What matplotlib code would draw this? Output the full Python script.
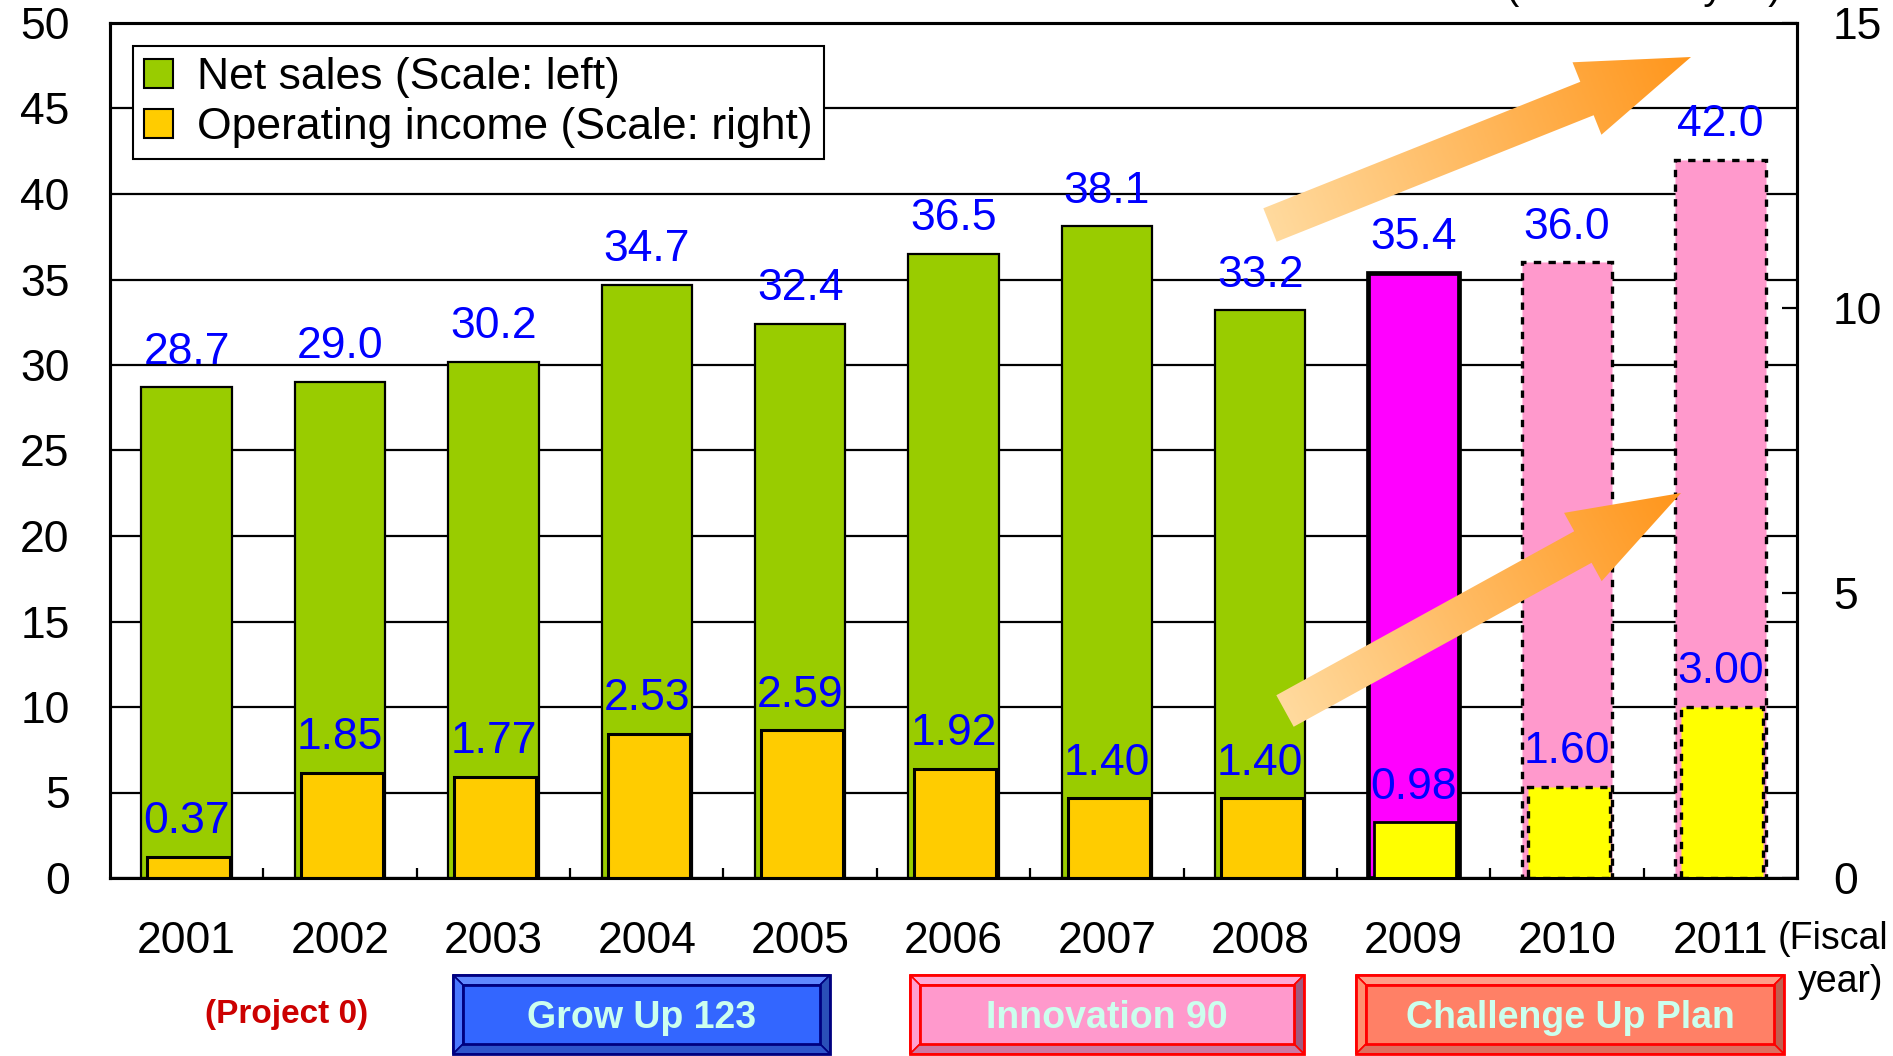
import numpy as np
import matplotlib.pyplot as plt
from matplotlib.patches import Patch, Polygon, Rectangle
from matplotlib.colors import LinearSegmentedColormap

years = ['2001', '2002', '2003', '2004', '2005', '2006', '2007', '2008', '2009', '2010', '2011']
net_sales = [28.7, 29.0, 30.2, 34.7, 32.4, 36.5, 38.1, 33.2, 35.4, 36.0, 42.0]
op_income = [0.37, 1.85, 1.77, 2.53, 2.59, 1.92, 1.40, 1.40, 0.98, 1.60, 3.00]
plans = ['Grow Up 123', 'Innovation 90', 'Challenge Up Plan']

plt.rcParams['font.family'] = ['Liberation Sans', 'DejaVu Sans']
narrow = ['Liberation Sans Narrow', 'Liberation Sans', 'DejaVu Sans']
FS = 32

W, H = 1893, 1056
fig = plt.figure(figsize=(W / 100, H / 100), dpi=100)
ax = fig.add_axes([110 / W, 1 - 878 / H, (1797 - 110) / W, (878 - 23) / H])
ax2 = ax.twinx()

x = np.arange(len(years))
sales_col = ['#99CC00'] * 8 + ['#FF00FF', '#FF99CC', '#FF99CC']
inc_col = ['#FFCC00'] * 8 + ['#FFFF00'] * 3
dash = (0, (2.2, 2.2))

for i in range(len(years)):
    if i < 8:
        lw1, lw2, ls = 1.6, 2.2, 'solid'
    elif i == 8:
        lw1, lw2, ls = 3.4, 2.0, 'solid'
    else:
        lw1, lw2, ls = 2.4, 2.4, dash
    ax.bar(x[i], net_sales[i], width=0.59, color=sales_col[i], edgecolor='black',
           linewidth=lw1, linestyle=ls, zorder=2)
    ax2.bar(x[i] + 0.012, op_income[i], width=0.535, color=inc_col[i], edgecolor='black',
            linewidth=lw2, linestyle=ls, zorder=2)
    ax.annotate(f'{net_sales[i]:.1f}', (x[i], net_sales[i]), xytext=(0, 17),
                textcoords='offset points', ha='center', va='baseline',
                color='#0000FF', fontsize=FS, zorder=5)
    ax2.annotate(f'{op_income[i]:.2f}', (x[i], op_income[i]), xytext=(0, 17),
                 textcoords='offset points', ha='center', va='baseline',
                 color='#0000FF', fontsize=FS, zorder=5)

ax.set_xlim(-0.5, 10.5)
ax.set_ylim(0, 50)
ax.set_yticks(range(0, 51, 5))
ax2.set_ylim(0, 15)
ax2.set_yticks([0, 5, 10, 15])
ax.yaxis.grid(True, color='black', linewidth=1.6)
ax.set_axisbelow(True)

ax.set_xticks(x, years)
ax.set_xticks(np.arange(0.5, 10, 1), minor=True)
ax.tick_params(axis='x', which='major', length=0, pad=31, labelsize=FS)
ax.tick_params(axis='x', which='minor', direction='in', length=7, width=1.6)
ax.tick_params(axis='y', direction='in', length=0, pad=29, labelsize=FS)
ax2.tick_params(axis='y', direction='in', length=11, width=1.6, pad=26, labelsize=FS)
for a in (ax, ax2):
    for s in a.spines.values():
        s.set_linewidth(2.2)

handles = [Patch(facecolor='#99CC00', edgecolor='black', linewidth=1.5,
                 label='Net sales (Scale: left)'),
           Patch(facecolor='#FFCC00', edgecolor='black', linewidth=1.5,
                 label='Operating income (Scale: right)')]
leg = ax2.legend(handles=handles, loc='upper left', bbox_to_anchor=(23 / 1687, 1 - 23 / 855),
                 fontsize=FS, fancybox=False, framealpha=1, edgecolor='black',
                 handlelength=0.65, handleheight=0.65, handletextpad=0.55,
                 borderpad=0.25, labelspacing=0.2, borderaxespad=0)
leg.get_frame().set_linewidth(1.5)

# overlay in pixel units for the arrows and the plan buttons
ov = fig.add_axes([0, 0, 1, 1], zorder=10)
ov.set_xlim(0, W)
ov.set_ylim(H, 0)
ov.axis('off')

cmap = LinearSegmentedColormap.from_list('arr', ['#FFDA9E', '#FF961C'])


def grad_arrow(tail, tip, w=36, hw=78, hl=112):
    t = np.array(tail, float)
    p = np.array(tip, float)
    L = np.hypot(*(p - t))
    u = (p - t) / L
    n = np.array([-u[1], u[0]])
    b = p - u * hl
    pts = [t + n * w / 2, b + n * w / 2, b + n * hw / 2, p,
           b - n * hw / 2, b - n * w / 2, t - n * w / 2]
    poly = Polygon(pts, closed=True, facecolor='none', edgecolor='none')
    ov.add_patch(poly)
    xs = [q[0] for q in pts]
    ys = [q[1] for q in pts]
    x0, x1, y0, y1 = min(xs), max(xs), min(ys), max(ys)
    gx, gy = np.meshgrid(np.linspace(x0, x1, 300), np.linspace(y0, y1, 300))
    g = np.clip(((gx - t[0]) * u[0] + (gy - t[1]) * u[1]) / L, 0, 1)
    im = ov.imshow(g, cmap=cmap, extent=(x0, x1, y1, y0), origin='upper',
                   aspect='auto', interpolation='bilinear')
    im.set_clip_path(poly)


grad_arrow((1270, 225), (1691, 57))
grad_arrow((1285, 711), (1681, 493))


def button(x0, x1, y0, y1, face, top, left, right, bottom, edge, label, bw=10):
    parts = [
        ([(x0, y0), (x1, y0), (x1 - bw, y0 + bw), (x0 + bw, y0 + bw)], top),
        ([(x0, y0), (x0 + bw, y0 + bw), (x0 + bw, y1 - bw), (x0, y1)], left),
        ([(x1, y0), (x1, y1), (x1 - bw, y1 - bw), (x1 - bw, y0 + bw)], right),
        ([(x0, y1), (x1, y1), (x1 - bw, y1 - bw), (x0 + bw, y1 - bw)], bottom),
    ]
    for pts, c in parts:
        ov.add_patch(Polygon(pts, closed=True, facecolor=c, edgecolor=edge, linewidth=1.2))
    ov.add_patch(Rectangle((x0 + bw, y0 + bw), x1 - x0 - 2 * bw, y1 - y0 - 2 * bw,
                           facecolor=face, edgecolor=edge, linewidth=2))
    ov.add_patch(Rectangle((x0, y0), x1 - x0, y1 - y0, facecolor='none',
                           edgecolor=edge, linewidth=2))
    ov.text((x0 + x1) / 2, (y0 + y1) / 2 + 3, label, ha='center', va='center',
            fontsize=27, fontweight='bold', color='#CCFFEE', family=narrow)


button(453, 830, 975, 1054, '#3366FF', '#6088FF', '#4A78FF', '#2A4FB8', '#2E55CC',
       '#000080', plans[0])
button(910, 1304, 975, 1054, '#FF99CC', '#FFAAD6', '#FFA0D0', '#A05A80', '#CC7AA3',
       '#FF0000', plans[1])
button(1356, 1784, 975, 1054, '#FF8066', '#FF9E88', '#FF9070', '#C06050', '#DD7060',
       '#FF0000', plans[2])

ov.text(287, 1015, '(Project 0)', ha='center', va='center', fontsize=24,
        fontweight='bold', color='#CC0000', family=narrow)
ov.text(1888, 939, '(Fiscal', ha='right', va='center', fontsize=27)
ov.text(1883, 982, 'year)', ha='right', va='center', fontsize=27)
ov.text(1782, -1, '(Billions of yen)', ha='right', va='baseline', fontsize=29)

fig.savefig('out.png', dpi=100)
